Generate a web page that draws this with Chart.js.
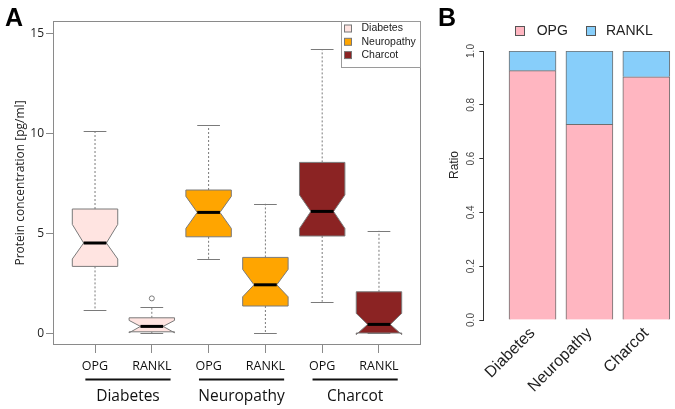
<!DOCTYPE html>
<html>
<head>
<meta charset="utf-8">
<script src="https://cdn.jsdelivr.net/npm/chart.js@4.4.0/dist/chart.umd.min.js"></script>
<style>
  html, body { margin: 0; padding: 0; background: #fff; }
  #wrap { position: relative; width: 675px; height: 409px; overflow: hidden; }
  #boxChart { position: absolute; left: 0; top: 0; }
  #ratioChart { position: absolute; left: 430px; top: 0; }
</style>
</head>
<body>
<div id="wrap">
  <canvas id="boxChart" width="430" height="409"></canvas>
  <canvas id="ratioChart" width="245" height="409"></canvas>
</div>
<script>
// Panel A - protein concentration per group (notched box plots)
const groups = ['Diabetes', 'Neuropathy', 'Charcot'];
const boxLabels = ['OPG', 'RANKL', 'OPG', 'RANKL', 'OPG', 'RANKL'];
const boxGroup = [0, 0, 1, 1, 2, 2];
const whiskerLow  = [1.17, 0.00, 3.72, 0.00, 1.58, 0.00];
const quartile1   = [3.35, 0.08, 4.83, 1.37, 4.87, 0.02];
const medians     = [4.52, 0.35, 6.05, 2.43, 6.10, 0.45];
const quartile3   = [6.22, 0.78, 7.17, 3.80, 8.55, 2.08];
const whiskerHigh = [10.10, 1.33, 10.42, 6.48, 14.20, 5.13];
const notchLow    = [3.72, 0.03, 5.25, 1.83, 5.25, -0.06];
const notchHigh   = [5.45, 0.65, 6.85, 3.20, 6.92, 1.00];
const outliers = [{ x: 2, y: 1.75 }];
const yTicksA = [0, 5, 10, 15];
const groupColors = ['#FFE4E1', '#FFA500', '#8B2323'];

// Panel B - OPG / RANKL ratio
const ratioOPG   = [0.927, 0.727, 0.904];
const ratioRANKL = [0.073, 0.273, 0.096];
const yTicksB = [0, 0.2, 0.4, 0.6, 0.8, 1.0];

const lineGray = '#7a7a7a';

function drawBoxes(chart) {
  const { ctx, scales: { x, y } } = chart;
  ctx.save();
  for (let i = 0; i < medians.length; i++) {
    const pos = i + 1;
    const cx = x.getPixelForValue(pos);
    const hw = x.getPixelForValue(pos + 0.4) - cx;
    const nw = hw / 2;
    const cap = hw / 2;

    // whiskers
    ctx.strokeStyle = lineGray;
    ctx.lineWidth = 1;
    ctx.setLineDash([2, 2]);
    ctx.beginPath();
    ctx.moveTo(cx, y.getPixelForValue(quartile3[i]));
    ctx.lineTo(cx, y.getPixelForValue(whiskerHigh[i]));
    ctx.moveTo(cx, y.getPixelForValue(quartile1[i]));
    ctx.lineTo(cx, y.getPixelForValue(whiskerLow[i]));
    ctx.stroke();
    ctx.setLineDash([]);
    ctx.beginPath();
    [whiskerHigh[i], whiskerLow[i]].forEach(v => {
      const py = Math.round(y.getPixelForValue(v)) + 0.5;
      ctx.moveTo(cx - cap, py);
      ctx.lineTo(cx + cap, py);
    });
    ctx.stroke();

    // notched box
    const yq1 = y.getPixelForValue(quartile1[i]);
    const yq3 = y.getPixelForValue(quartile3[i]);
    const ym = y.getPixelForValue(medians[i]);
    const ynl = y.getPixelForValue(notchLow[i]);
    const ynh = y.getPixelForValue(notchHigh[i]);
    ctx.beginPath();
    ctx.moveTo(cx - hw, yq1);
    ctx.lineTo(cx + hw, yq1);
    ctx.lineTo(cx + hw, ynl);
    ctx.lineTo(cx + nw, ym);
    ctx.lineTo(cx + hw, ynh);
    ctx.lineTo(cx + hw, yq3);
    ctx.lineTo(cx - hw, yq3);
    ctx.lineTo(cx - hw, ynh);
    ctx.lineTo(cx - nw, ym);
    ctx.lineTo(cx - hw, ynl);
    ctx.closePath();
    ctx.fillStyle = groupColors[boxGroup[i]];
    ctx.fill();
    ctx.strokeStyle = lineGray;
    ctx.stroke();

    // median
    ctx.strokeStyle = '#000';
    ctx.lineWidth = 3;
    ctx.beginPath();
    ctx.moveTo(cx - nw, ym);
    ctx.lineTo(cx + nw, ym);
    ctx.stroke();
  }
  ctx.restore();
}

const panelAPlugin = {
  id: 'panelA',
  beforeDatasetsDraw(chart) {
    drawBoxes(chart);
  },
  afterDraw(chart) {
    const { ctx, chartArea: a, scales: { x } } = chart;
    ctx.save();
    // frame
    ctx.strokeStyle = '#8a8a8a';
    ctx.lineWidth = 1;
    ctx.strokeRect(a.left + 0.5, a.top + 0.5, a.right - a.left - 1, a.bottom - a.top - 1);

    // legend (top right)
    const lx = 341.5, ly = a.top + 0.5;
    ctx.strokeStyle = '#9a9a9a';
    ctx.strokeRect(lx, ly, a.right - 0.5 - lx, 46);
    ctx.font = '10.5px "Liberation Sans", Arial, sans-serif';
    ctx.textBaseline = 'middle';
    groups.forEach((g, i) => {
      const ry = ly + 7 + i * 13.3;
      ctx.fillStyle = groupColors[i];
      ctx.fillRect(344.5, ry - 3.5, 7, 7);
      ctx.strokeStyle = '#777';
      ctx.strokeRect(344.5, ry - 3.5, 7, 7);
      ctx.fillStyle = '#222';
      ctx.fillText(g, 361.5, ry);
    });

    // group brackets below the axis
    ctx.strokeStyle = '#111';
    ctx.lineWidth = 2;
    ctx.fillStyle = '#111';
    ctx.font = '15.5px "Open Sans", sans-serif';
    ctx.textAlign = 'center';
    ctx.textBaseline = 'alphabetic';
    groups.forEach((g, gi) => {
      const x1 = x.getPixelForValue(gi * 2 + 1 - 0.17);
      const x2 = x.getPixelForValue(gi * 2 + 2 + 0.33);
      ctx.beginPath();
      ctx.moveTo(x1, 379.5);
      ctx.lineTo(x2, 379.5);
      ctx.stroke();
      ctx.fillText(g, (x1 + x2) / 2, 401);
    });

    // panel letter
    ctx.textAlign = 'left';
    ctx.fillStyle = '#000';
    ctx.font = 'bold 25px "Liberation Sans", Arial, sans-serif';
    ctx.fillText('A', 5, 26);
    ctx.restore();
  }
};

new Chart(document.getElementById('boxChart'), {
  type: 'scatter',
  data: {
    datasets: [{
      label: 'outliers',
      data: outliers,
      pointStyle: 'circle',
      radius: 2.5,
      borderWidth: 1,
      borderColor: lineGray,
      backgroundColor: 'rgba(0,0,0,0)'
    }]
  },
  options: {
    responsive: false,
    animation: false,
    layout: { autoPadding: false, padding: { top: 21, right: 9, left: 0, bottom: 0 } },
    plugins: { legend: { display: false }, tooltip: { enabled: false } },
    scales: {
      x: {
        type: 'linear',
        min: 0.26,
        max: 6.74,
        afterBuildTicks: s => { s.ticks = boxLabels.map((_, i) => ({ value: i + 1 })); },
        afterFit: s => { s.height = 64; },
        ticks: {
          autoSkip: false,
          maxRotation: 0,
          padding: 6,
          color: '#111',
          font: { family: '"Open Sans", sans-serif', size: 12.5 },
          callback: v => boxLabels[v - 1]
        },
        grid: { drawOnChartArea: false, tickLength: 8, color: '#8a8a8a' },
        border: { display: false }
      },
      y: {
        type: 'linear',
        min: -0.58,
        max: 15.62,
        afterBuildTicks: s => { s.ticks = yTicksA.map(v => ({ value: v })); },
        afterFit: s => { s.width = 53; },
        ticks: {
          padding: 2,
          color: '#222',
          font: { family: '"Open Sans", sans-serif', size: 12 }
        },
        grid: { drawOnChartArea: false, tickLength: 7, color: '#8a8a8a' },
        border: { display: false },
        title: {
          display: true,
          text: 'Protein concentration [pg/ml]',
          color: '#222',
          font: { family: '"Open Sans", sans-serif', size: 12 },
          padding: { top: 13, bottom: 0 }
        }
      }
    }
  },
  plugins: [panelAPlugin]
});

const panelBPlugin = {
  id: 'panelB',
  afterDraw(chart) {
    const { ctx } = chart;
    ctx.save();
    ctx.fillStyle = '#000';
    ctx.font = 'bold 25px "Liberation Sans", Arial, sans-serif';
    ctx.fillText('B', 8, 26);

    // y title
    ctx.save();
    ctx.translate(25, 165);
    ctx.rotate(-Math.PI / 2);
    ctx.textAlign = 'center';
    ctx.textBaseline = 'middle';
    ctx.font = '12px "Liberation Sans", Arial, sans-serif';
    ctx.fillStyle = '#222';
    ctx.fillText('Ratio', 0, 0);
    ctx.restore();

    // legend
    ctx.font = '14px "Liberation Sans", Arial, sans-serif';
    ctx.textBaseline = 'middle';
    const items = [[85, 106.7], [156, 176]];
    chart.data.datasets.forEach((ds, i) => {
      const [bx, tx] = items[i];
      ctx.fillStyle = ds.backgroundColor;
      ctx.fillRect(bx + 0.5, 26.5, 9, 9);
      ctx.strokeStyle = '#555';
      ctx.lineWidth = 1;
      ctx.strokeRect(bx + 0.5, 26.5, 9, 9);
      ctx.fillStyle = '#222';
      ctx.fillText(ds.label, tx, 31.5);
    });
    ctx.restore();
  }
};

new Chart(document.getElementById('ratioChart'), {
  type: 'bar',
  data: {
    datasets: [
      {
        label: 'OPG',
        data: ratioOPG.map((v, i) => ({ x: i + 1, y: v })),
        backgroundColor: '#FFB6C1',
        borderColor: '#6e6e6e',
        borderWidth: 1,
        barThickness: 47
      },
      {
        label: 'RANKL',
        data: ratioRANKL.map((v, i) => ({ x: i + 1, y: v })),
        backgroundColor: '#87CEFA',
        borderColor: '#6e6e6e',
        borderWidth: 1,
        barThickness: 47
      }
    ]
  },
  options: {
    responsive: false,
    animation: false,
    layout: { autoPadding: false, padding: { top: 51, right: 0, left: 0, bottom: 0 } },
    plugins: { legend: { display: false }, tooltip: { enabled: false } },
    scales: {
      x: {
        type: 'linear',
        stacked: true,
        offset: false,
        min: 0.135,
        max: 3.504,
        afterBuildTicks: s => { s.ticks = groups.map((_, i) => ({ value: i + 1 })); },
        afterFit: s => { s.height = 89; },
        ticks: {
          autoSkip: false,
          minRotation: 45,
          maxRotation: 45,
          padding: 4,
          color: '#222',
          font: { family: '"Liberation Sans", Arial, sans-serif', size: 16 },
          callback: v => groups[v - 1]
        },
        grid: { display: false, drawTicks: false },
        border: { display: false }
      },
      y: {
        stacked: true,
        min: 0,
        max: 1,
        afterBuildTicks: s => { s.ticks = yTicksB.map(v => ({ value: v })); },
        afterFit: s => { s.width = 53.3; },
        ticks: {
          minRotation: 90,
          maxRotation: 90,
          crossAlign: 'center',
          padding: 1,
          color: '#444',
          font: { family: '"Liberation Sans", Arial, sans-serif', size: 10 },
          callback: v => v.toFixed(1)
        },
        grid: { drawOnChartArea: false, tickLength: 4, color: '#333' },
        border: { display: true, color: '#333' }
      }
    }
  },
  plugins: [panelBPlugin]
});
</script>
</body>
</html>
